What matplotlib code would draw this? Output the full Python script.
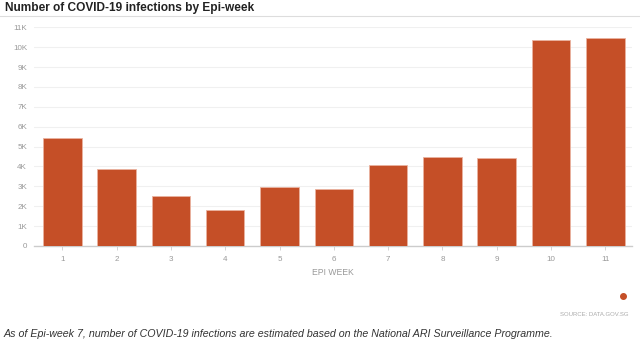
import matplotlib.pyplot as plt

plt.rcParams['font.family'] = ['Liberation Sans', 'DejaVu Sans']

weeks = [1, 2, 3, 4, 5, 6, 7, 8, 9, 10, 11]
infections = [5430, 3850, 2500, 1810, 2960, 2860, 4070, 4470, 4420, 10340, 10450]
ytick_vals = [0, 1000, 2000, 3000, 4000, 5000, 6000, 7000, 8000, 9000, 10000, 11000]
ytick_labels = ["0", "1K", "2K", "3K", "4K", "5K", "6K", "7K", "8K", "9K", "10K", "11K"]

bar_color = "#c54f27"
grey_text = "#999999"

fig = plt.figure(figsize=(6.4, 3.6), dpi=100)
ax = fig.add_axes([34 / 640, 1 - 246 / 360, (632 - 34) / 640, (246 - 27.3) / 360])

ax.bar(weeks, infections, width=0.71, color=bar_color, edgecolor="#eab3a0", linewidth=0.6, zorder=3)

ax.set_xlim(0.48, 11.49)
ax.set_ylim(0, 11000)
ax.set_xticks(weeks)
ax.set_xticklabels([str(w) for w in weeks])
ax.set_yticks(ytick_vals)
ax.set_yticklabels(ytick_labels)

ax.grid(axis="y", color="#f0f0f0", linewidth=0.8, zorder=0)
for side in ["top", "right", "left"]:
    ax.spines[side].set_visible(False)
ax.spines["bottom"].set_color("#cccccc")
ax.spines["bottom"].set_linewidth(1.0)

ax.tick_params(axis="y", length=0, pad=5, labelsize=5.8, labelcolor=grey_text)
ax.tick_params(axis="x", length=3, width=0.6, color="#cccccc", pad=4, labelsize=5.8, labelcolor=grey_text)

ax.set_xlabel("EPI WEEK", fontsize=6.2, color=grey_text, labelpad=4)

fig.text(5 / 640, 1 - 8 / 360, "Number of COVID-19 infections by Epi-week",
         fontsize=8.6, fontweight="bold", color="#222222", ha="left", va="center")
fig.add_artist(plt.Line2D([0, 1], [1 - 16 / 360, 1 - 16 / 360], color="#dddddd", linewidth=0.8))

fig.add_artist(plt.Line2D([623 / 640], [1 - 296 / 360], marker="o", markersize=4,
                          color=bar_color, linestyle="none"))
fig.text(628 / 640, 1 - 315 / 360, "SOURCE: DATA.GOV.SG", fontsize=4.3, color="#aaaaaa",
         ha="right", va="center")
fig.text(4 / 640, 1 - 334 / 360,
         "As of Epi-week 7, number of COVID-19 infections are estimated based on the National ARI Surveillance Programme.",
         fontsize=7.7, fontstyle="italic", color="#333333", ha="left", va="center")

fig.savefig("out.png", dpi=100)
